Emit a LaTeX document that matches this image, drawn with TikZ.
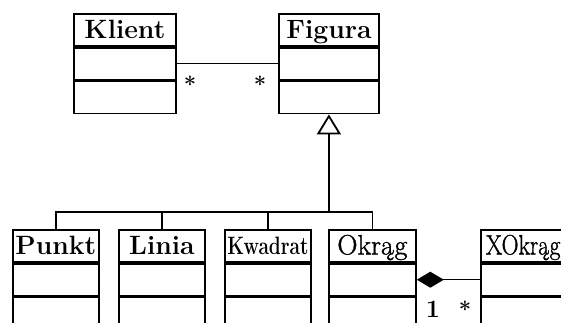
\documentclass[tikz,border=0pt]{standalone}
\usepackage{fontspec}
\usetikzlibrary{arrows.meta}
\newfontfamily\semibold{Latin Modern Roman}[FakeBold=1.2]

\tikzset{
  head/.style={draw, line width=1.8pt, minimum height=32pt, inner sep=0pt,
               text height=20pt, text depth=3pt, anchor=north west,
               font=\bfseries\fontsize{26.5}{30}\selectfont},
  plainhead/.style={head, font=\semibold\fontsize{28}{32}\selectfont},
  part/.style={draw, line width=1.8pt, minimum height=32pt, inner sep=0pt, anchor=north},
  link/.style={line width=1.5pt},
  gen/.style={link, -{Triangle[open, width=24pt, length=20pt, line width=1.8pt]}},
  comp/.style={link, {Diamond[width=16pt, length=27pt]}-},
  star/.style={font=\bfseries\fontsize{22}{24}\selectfont, inner sep=0pt},
  mult/.style={font=\bfseries\fontsize{25}{28}\selectfont, inner sep=0pt,
               text height=16pt, text depth=0pt},
}

% a class: header with name, then attribute and operation compartments
\newcommand{\umlclass}[6][head]{%
  \node[#1, minimum width=#4] (#2) at (#3) {#6};
  \node[part, minimum width=#4] (#2-a) at (#2.south) {};
  \node[part, minimum width=#4] (#2-o) at (#2-a.south) {};
}

\begin{document}
\begin{tikzpicture}[x=1pt, y=-1pt]
  \path[use as bounding box] (0,0) rectangle (561,322);
  \clip (0,0) rectangle (561,322);

  % upper row
  \umlclass{klient}{73,13}{102pt}{}{Klient}
  \umlclass{figura}{278,13}{100pt}{}{Figura}

  % lower row
  \umlclass{punkt}{12,229}{86pt}{}{Punkt}
  \umlclass{linia}{118,229}{86pt}{}{Linia}
  \umlclass{kwadrat}{224,229}{86pt}{}{\scalebox{0.72}[0.95]{Kwadrat}}
  \umlclass[plainhead]{okrag}{328,229}{87pt}{}{Okrąg}
  \umlclass[plainhead]{xokrag}{480,229}{100pt}{}{\makebox[90pt][l]{\scalebox{0.84}[1]{XOkrąg}}}

  % association Klient -- Figura
  \draw[link] (klient-a.east) -- (figura-a.west);
  \node[star] (m1) at (190,84) {*};
  \node[star] (m2) at (260,84) {*};

  % generalization tree
  \coordinate (bus) at (figura.center |- 0,212);
  \draw[gen] (bus) -- (figura-o.south);
  \draw[link] (punkt.north) |- (bus);
  \draw[link] (linia.north) |- (bus);
  \draw[link] (kwadrat.north) |- (bus);
  \draw[link] (okrag.north) |- (bus);

  % composition Okrąg -- XOkrąg
  \draw[comp] (okrag-a.east) -- (xokrag-a.west);
  \node[mult] (m3) at (433,309) {1};
  \node[star] (m4) at (465,309) {*};
\end{tikzpicture}
\end{document}
